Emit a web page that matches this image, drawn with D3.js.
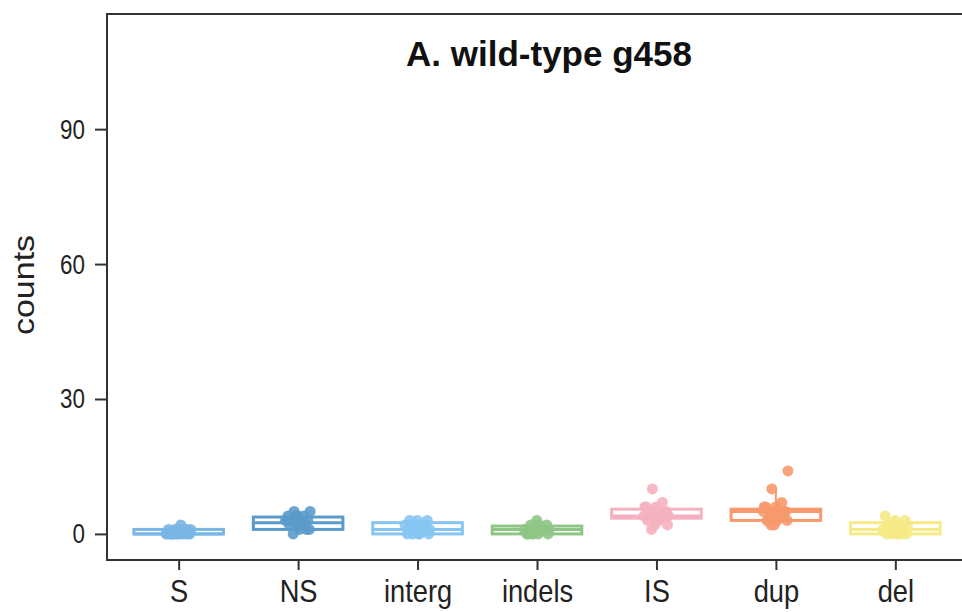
<!DOCTYPE html>
<meta charset="utf-8">
<style>
  body { margin: 0; background: #fff; font-family: "Liberation Sans", Arial, sans-serif; }
</style>
<body>
<svg></svg>
<script src="https://d3js.org/d3.v7.min.js"></script>
<script>

// categories and colours
var categories = ["S", "NS", "interg", "indels", "IS", "dup", "del"];
var colors = ["#79b6e6", "#5b9bcb", "#86c5f2", "#8ec785", "#f5b1bf", "#f7996c", "#f5ea86"];

// box statistics
var q1 = [0, 1, 0, 0, 3.5, 3, 0];
var median = [0, 2.5, 1, 1, 4, 5, 1];
var q3 = [1, 3.75, 2.5, 1.75, 5.5, 5.5, 2.5];
var whiskerLow = [0, 0, 0, 0, 1, 2, 0];
var whiskerHigh = [2, 5, 3, 3, 7, 10, 4];

// individual counts (jittered points)
var sPts = [0, 0, 0, 0, 0, 0, 0, 0, 0, 0, 1, 1, 1, 1, 1, 2, 0, 1, 0, 0];
var nsPts = [0, 1, 1, 2, 2, 2, 3, 3, 3, 3, 4, 4, 4, 5, 5, 2, 3, 1, 4, 3];
var intergPts = [0, 0, 0, 1, 1, 1, 2, 2, 2, 3, 3, 0, 1, 2, 1, 0, 3, 2];
var indelsPts = [0, 0, 0, 0, 1, 1, 1, 1, 2, 2, 3, 0, 1, 0, 1, 2];
var isPts = [1, 2, 3, 3, 4, 4, 4, 5, 5, 5, 6, 6, 7, 10, 4, 3, 5, 4, 2, 6];
var dupPts = [2, 3, 3, 3, 4, 4, 5, 5, 5, 5, 6, 6, 7, 10, 14, 4, 3, 5, 2, 6];
var delPts = [0, 0, 0, 0, 1, 1, 1, 2, 2, 3, 3, 4, 0, 1, 2, 0];
var points = [sPts, nsPts, intergPts, indelsPts, isPts, dupPts, delPts];

var yTicks = [0, 30, 60, 90];

var width = 962, height = 612;
var margin = {left: 107, top: 14, bottom: 52};

var svg = d3.select("svg")
    .attr("width", width)
    .attr("height", height);

var x = d3.scalePoint()
    .domain(categories)
    .range([margin.left, 967])
    .padding(0.6);

var y = d3.scaleLinear()
    .domain([-5.8, 115.6])
    .range([height - margin.bottom, margin.top]);

var boxW = x.step() * 0.75;

var rows = categories.map(function (c, i) {
  return {cat: c, color: colors[i], q1: q1[i], med: median[i], q3: q3[i],
          lo: whiskerLow[i], hi: whiskerHigh[i], pts: points[i]};
});

var g = svg.selectAll("g.box")
    .data(rows)
    .enter().append("g").attr("class", "box");

// whiskers
g.append("line")
    .attr("x1", function (d) { return x(d.cat); })
    .attr("x2", function (d) { return x(d.cat); })
    .attr("y1", function (d) { return y(d.q3); })
    .attr("y2", function (d) { return y(d.hi); })
    .style("stroke", function (d) { return d.color; })
    .style("stroke-width", 2);
g.append("line")
    .attr("x1", function (d) { return x(d.cat); })
    .attr("x2", function (d) { return x(d.cat); })
    .attr("y1", function (d) { return y(d.q1); })
    .attr("y2", function (d) { return y(d.lo); })
    .style("stroke", function (d) { return d.color; })
    .style("stroke-width", 2);

g.append("rect")
    .attr("x", function (d) { return x(d.cat) - boxW / 2; })
    .attr("width", boxW)
    .attr("y", function (d) { return y(d.q3); })
    .attr("height", function (d) { return y(d.q1) - y(d.q3); })
    .style("fill", "#fff")
    .style("stroke", function (d) { return d.color; })
    .style("stroke-width", 3);

g.append("line")
    .attr("x1", function (d) { return x(d.cat) - boxW / 2; })
    .attr("x2", function (d) { return x(d.cat) + boxW / 2; })
    .attr("y1", function (d) { return y(d.med); })
    .attr("y2", function (d) { return y(d.med); })
    .style("stroke", function (d) { return d.color; })
    .style("stroke-width", 3);

// jittered points, spread deterministically
g.selectAll("circle")
    .data(function (d) { return d.pts.map(function (v) { return {v: v, d: d}; }); })
    .enter().append("circle")
    .attr("cx", function (p, i) {
      var f = (i * 0.618034 + 0.31) % 1;
      return x(p.d.cat) + (f - 0.5) * 26;
    })
    .attr("cy", function (p) { return y(p.v); })
    .attr("r", 5.5)
    .style("fill", function (p) { return p.d.color; })
    .style("opacity", 0.9);

// panel border
svg.append("rect")
    .attr("x", margin.left)
    .attr("y", margin.top)
    .attr("width", 967 - margin.left)
    .attr("height", height - margin.bottom - margin.top)
    .style("fill", "none")
    .style("stroke", "#333")
    .style("stroke-width", 2);

// y axis
var yAxis = svg.append("g")
    .attr("transform", "translate(" + margin.left + ",0)")
    .call(d3.axisLeft(y).tickValues(yTicks).tickSize(12).tickPadding(10));
yAxis.select(".domain").remove();
yAxis.selectAll("line").style("stroke", "#333").style("stroke-width", 2);
yAxis.selectAll("text")
    .style("font-size", "28px")
    .style("fill", "#222")
    .attr("x", -22 / 0.8)
    .attr("transform", "scale(0.8,1)");

// x axis
var xAxis = svg.append("g")
    .attr("transform", "translate(0," + (height - margin.bottom) + ")")
    .call(d3.axisBottom(x).tickSize(10).tickPadding(10));
xAxis.select(".domain").remove();
xAxis.selectAll("line").style("stroke", "#333").style("stroke-width", 2);
xAxis.selectAll("text")
    .style("font-size", "31px")
    .style("fill", "#222")
    .attr("transform", "scale(0.88,1)");

svg.append("text")
    .attr("transform", "translate(34,285) rotate(-90) scale(1,0.85)")
    .attr("text-anchor", "middle")
    .style("font-size", "34px")
    .style("fill", "#222")
    .text("counts");

svg.append("text")
    .attr("x", 549)
    .attr("y", 66)
    .attr("text-anchor", "middle")
    .style("font-size", "35px")
    .style("font-weight", "bold")
    .style("fill", "#111")
    .text("A. wild-type g458");

</script>
</body>
